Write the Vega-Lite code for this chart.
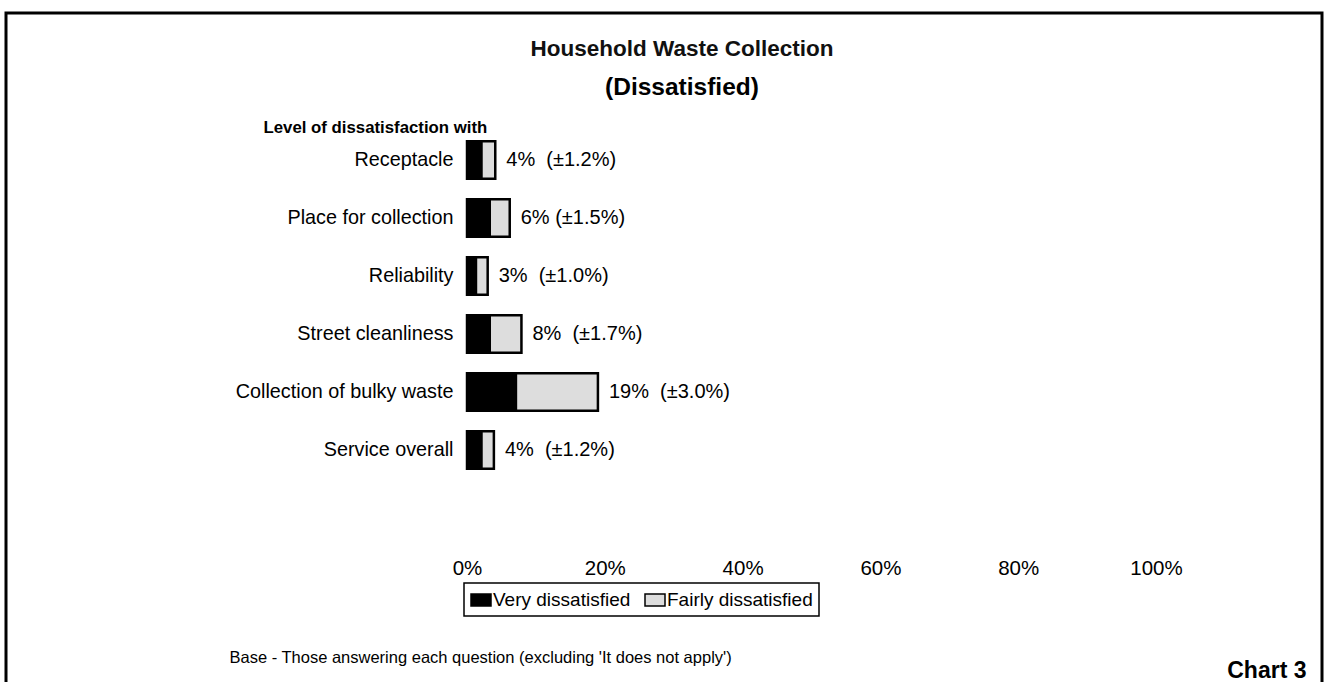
{
  "$schema": "https://vega.github.io/schema/vega-lite/v6.json",
  "width": 1316,
  "height": 671,
  "padding": {"left": 6, "top": 13, "right": 2, "bottom": 0},
  "autosize": {"type": "none"},
  "background": "white",
  "config": {
    "font": "Liberation Sans",
    "view": {"stroke": "black", "strokeWidth": 3},
    "axis": {"labelColor": "black", "titleColor": "black", "labelFont": "Liberation Sans", "titleFont": "Liberation Sans"}
  },
  "title": {
    "text": "Household Waste Collection",
    "subtitle": "(Dissatisfied)",
    "anchor": "middle",
    "frame": "group",
    "offset": -86,
    "dx": 18,
    "fontSize": 22.5,
    "fontWeight": "bold",
    "color": "#111111",
    "subtitleFontSize": 24.5,
    "subtitleFontWeight": "bold",
    "subtitleColor": "#000000",
    "subtitleFont": "Liberation Sans",
    "subtitlePadding": 15
  },
  "data": {
    "values": [
      {"item": "Receptacle", "very": 2.1, "fairly": 2.0, "label": "4%\u00a0 (±1.2%)"},
      {"item": "Place for collection", "very": 3.3, "fairly": 2.9, "label": "6% (±1.5%)"},
      {"item": "Reliability", "very": 1.3, "fairly": 1.7, "label": "3%\u00a0 (±1.0%)"},
      {"item": "Street cleanliness", "very": 3.3, "fairly": 4.6, "label": "8%\u00a0 (±1.7%)"},
      {"item": "Collection of bulky waste", "very": 7.1, "fairly": 11.9, "label": "19%\u00a0 (±3.0%)"},
      {"item": "Service overall", "very": 2.1, "fairly": 1.8, "label": "4%\u00a0 (±1.2%)"}
    ]
  },
  "transform": [{"fold": ["very", "fairly"], "as": ["level", "value"]}],
  "resolve": {"axis": {"x": "independent"}},
  "layer": [
    {
      "mark": {"type": "bar", "stroke": "black", "strokeWidth": 2.5},
      "encoding": {
        "y": {
          "field": "item",
          "type": "nominal",
          "sort": null,
          "scale": {"range": [118, 466], "paddingInner": 0.35, "paddingOuter": 0.175},
          "axis": {
            "orient": "left",
            "offset": -461,
            "domain": false,
            "ticks": false,
            "labelFontSize": 19.8,
            "labelPadding": 14,
            "labelLimit": 400,
            "title": "Level of dissatisfaction with",
            "titleAngle": 0,
            "titleAlign": "left",
            "titleBaseline": "middle",
            "titleX": -204,
            "titleY": 114,
            "titleFontSize": 16.8,
            "titleFontWeight": "bold"
          }
        },
        "x": {
          "field": "value",
          "type": "quantitative",
          "stack": "zero",
          "scale": {"domain": [-66.91, 124.09], "nice": false, "zero": false},
          "axis": {
            "orient": "bottom",
            "values": [0, 20, 40, 60, 80, 100],
            "labelExpr": "datum.value + '%'",
            "offset": -116,
            "domain": false,
            "ticks": false,
            "grid": false,
            "labelPadding": 0,
            "labelBaseline": "middle",
            "labelFontSize": 20.5,
            "labelFlush": false,
            "labelOverlap": false,
            "title": "Base - Those answering each question (excluding 'It does not apply')",
            "titleX": 223,
            "titleY": 89,
            "titleAlign": "left",
            "titleBaseline": "middle",
            "titleFontSize": 16.5,
            "titleFontWeight": "normal"
          }
        },
        "color": {
          "field": "level",
          "type": "nominal",
          "scale": {"domain": ["very", "fairly"], "range": ["#000000", "#dddddd"]},
          "legend": {
            "orient": "none",
            "legendX": 458,
            "legendY": 570,
            "direction": "horizontal",
            "title": null,
            "labelExpr": "datum.label == 'very' ? 'Very dissatisfied' : 'Fairly dissatisfied'",
            "fillColor": "white",
            "strokeColor": "black",
            "padding": 6,
            "symbolType": "M-1,-0.6H1V0.6H-1Z",
            "symbolSize": 400,
            "symbolStrokeColor": "black",
            "symbolStrokeWidth": 1.5,
            "labelFontSize": 19,
            "labelColor": "black",
            "labelOffset": 1,
            "columnPadding": 11,
            "labelLimit": 300,
            "encode": {"legend": {"update": {"strokeWidth": {"value": 1.5}}}}
          }
        },
        "order": {"field": "level", "sort": "descending"}
      }
    },
    {
      "transform": [
        {"aggregate": [{"op": "sum", "field": "value", "as": "total"}], "groupby": ["item", "label"]}
      ],
      "mark": {"type": "text", "align": "left", "baseline": "middle", "dx": 11, "fontSize": 20, "color": "black"},
      "encoding": {
        "y": {"field": "item", "type": "nominal", "sort": null},
        "x": {
          "field": "total",
          "type": "quantitative",
          "axis": {
            "orient": "top",
            "labels": false,
            "ticks": false,
            "domain": false,
            "grid": false,
            "title": "Chart 3",
            "titleX": 1300,
            "titleY": 657,
            "titleAlign": "right",
            "titleBaseline": "middle",
            "titleFontSize": 23,
            "titleFontWeight": "bold"
          }
        },
        "text": {"field": "label"}
      }
    }
  ]
}
